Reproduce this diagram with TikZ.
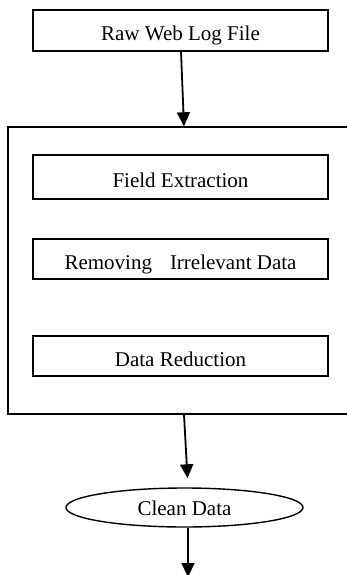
\documentclass[tikz,border=0pt]{standalone}
\usepackage{fontspec}
\setmainfont{Liberation Serif}
\usetikzlibrary{arrows.meta,shapes.geometric}
\begin{document}
\begin{tikzpicture}[x=1pt,y=-1pt,
  box/.style={draw, line width=1.4pt, rectangle, minimum width=295pt, inner sep=0pt,
    text height=20pt, text depth=0pt, font=\fontsize{21}{25}\selectfont},
  frame/.style={draw, line width=1.4pt, rectangle, minimum width=352pt, minimum height=287pt, inner sep=0pt},
  oval/.style={draw, line width=1.4pt, ellipse, minimum width=237pt, minimum height=39pt, inner sep=0pt,
    text height=16pt, text depth=0pt, font=\fontsize{21}{25}\selectfont},
  arr/.style={-{Triangle[length=14pt,width=13pt]}, line width=1.8pt}]
\useasboundingbox (0,0) rectangle (347,575);
\clip (0,0) rectangle (347,575);
\node[box, minimum height=41pt] (raw) at (180.5,30.5) {Raw Web Log File};
\node[frame] (frame) at (184,270.5) {};
\node[box, minimum height=44pt] (field) at (180.5,177) {Field Extraction};
\node[box, minimum height=40pt] (remove) at (180.5,259) {Removing\hspace{18pt}Irrelevant Data};
\node[box, minimum height=40pt] (reduce) at (180.5,356) {Data Reduction};
\node[oval] (clean) at (184.5,507.5) {Clean Data};
\coordinate (out) at (188,577);
\draw[arr] ([xshift=0.5pt]raw.south) -- (frame.north);
\draw[arr, shorten >=9pt] (frame.south) -- ([xshift=3.5pt]clean.north);
\draw[arr] ([xshift=3.5pt]clean.south) -- (out);
\end{tikzpicture}
\end{document}
